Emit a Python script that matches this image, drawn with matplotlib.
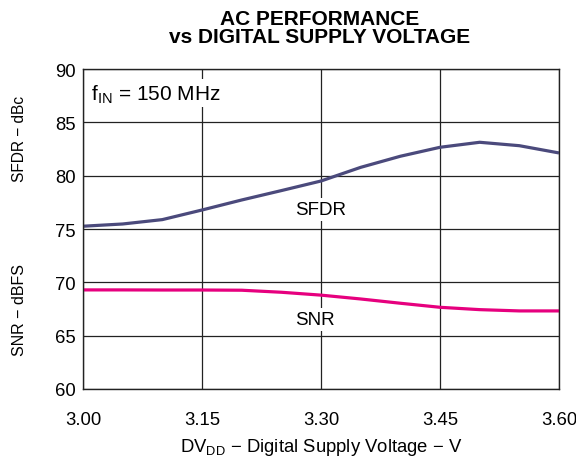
import matplotlib
matplotlib.use("Agg")
import matplotlib.pyplot as plt

plt.rcParams['font.family'] = ['Liberation Sans', 'DejaVu Sans']

# supply voltage, V
voltage = [3.00, 3.05, 3.10, 3.15, 3.20, 3.25, 3.30, 3.35, 3.40, 3.45, 3.50, 3.55, 3.60]
# SFDR, dBc
sfdr = [75.26, 75.47, 75.88, 76.78, 77.72, 78.6, 79.5, 80.78, 81.82, 82.66, 83.13, 82.81, 82.13]
# SNR, dBFS
snr = [69.29, 69.29, 69.28, 69.28, 69.26, 69.07, 68.8, 68.44, 68.04, 67.66, 67.44, 67.32, 67.32]

x_ticks = [3.00, 3.15, 3.30, 3.45, 3.60]
y_ticks = [60, 65, 70, 75, 80, 85, 90]

fig = plt.figure(figsize=(5.76, 4.6), dpi=100)
ax = fig.add_axes([83 / 576, 1 - 390 / 460, 476 / 576, 320 / 460])

ax.plot(voltage, sfdr, color='#4b4a7c', lw=2.3, solid_capstyle='butt')
ax.plot(voltage, snr, color='#e6007e', lw=2.3, solid_capstyle='butt')

ax.set_xlim(3.00, 3.60)
ax.set_ylim(60, 90)
ax.set_xticks(x_ticks)
ax.set_xticklabels([f"{v:.2f}" for v in x_ticks])
ax.set_yticks(y_ticks)
ax.grid(True, color='#222222', lw=0.9)
ax.set_axisbelow(True)
ax.tick_params(length=0, labelsize=13.3)
ax.tick_params(axis='x', pad=16)
ax.tick_params(axis='y', pad=5)
for s in ax.spines.values():
    s.set_linewidth(1.0)
    s.set_color('#222222')

box = dict(facecolor='white', edgecolor='none', pad=2)
ax.text(3.0105, 87.19, r"f$_{\mathregular{IN}}$ = 150 MHz", fontsize=15, ha='left', va='baseline', bbox=box)
ax.text(3.30, 76.41, "SFDR", fontsize=13.5, ha='center', va='baseline', bbox=box)
ax.text(3.2926, 66.1, "SNR", fontsize=13.5, ha='center', va='baseline', bbox=box)

fig.text(321 / 576, 1 - 452 / 460, r"DV$_{\mathregular{DD}}$ − Digital Supply Voltage − V",
         fontsize=13.3, ha='center', va='baseline')

fig.text(0.034, 1 - 139 / 460, "SFDR − dBc", rotation=90, fontsize=11.2, ha='center', va='center')
fig.text(0.034, 1 - 310 / 460, "SNR − dBFS", rotation=90, fontsize=11.5, ha='center', va='center')

fig.text(320 / 576, 1 - 25 / 460, "AC PERFORMANCE", fontsize=15, fontweight='bold',
         ha='center', va='baseline')
fig.text(320 / 576, 1 - 43.3 / 460, "vs DIGITAL SUPPLY VOLTAGE", fontsize=15, fontweight='bold',
         ha='center', va='baseline')

fig.savefig("out.png", dpi=100)
